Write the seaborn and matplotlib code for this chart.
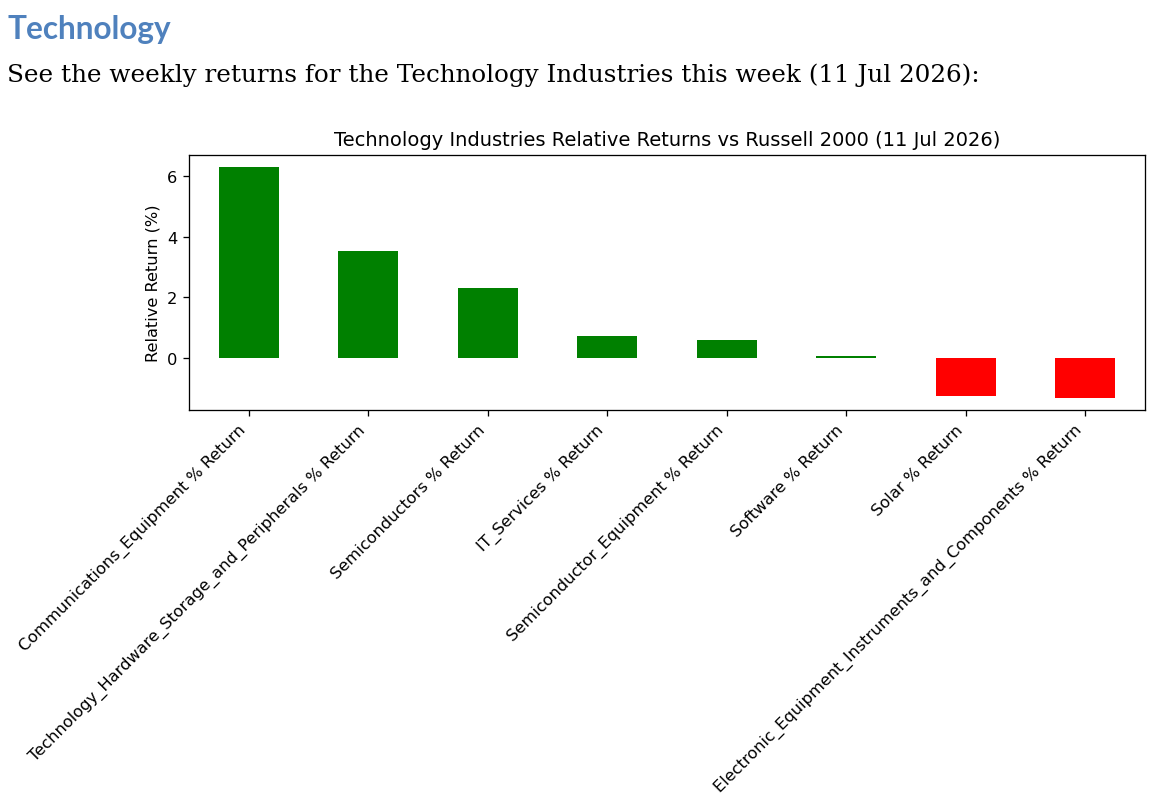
import matplotlib
matplotlib.use("Agg")
import matplotlib.pyplot as plt
import seaborn as sns

categories = [
    "Communications_Equipment % Return",
    "Technology_Hardware_Storage_and_Peripherals % Return",
    "Semiconductors % Return",
    "IT_Services % Return",
    "Semiconductor_Equipment % Return",
    "Software % Return",
    "Solar % Return",
    "Electronic_Equipment_Instruments_and_Components % Return",
]
values = [6.31, 3.53, 2.29, 0.73, 0.59, 0.07, -1.27, -1.34]

heading = "Technology"
intro = "See the weekly returns for the Technology Industries this week (11 Jul 2026):"
chart_title = "Technology Industries Relative Returns vs Russell 2000 (11 Jul 2026)"
y_label = "Relative Return (%)"

colors = ["green" if v >= 0 else "red" for v in values]

s = 1.17
plt.rcParams.update({
    "font.size": 10 * s,
    "axes.linewidth": 0.8 * s,
    "xtick.major.size": 3.5 * s,
    "ytick.major.size": 3.5 * s,
    "xtick.major.width": 0.8 * s,
    "ytick.major.width": 0.8 * s,
    "xtick.major.pad": 3.5 * s,
    "ytick.major.pad": 3.5 * s,
    "axes.labelpad": 4 * s,
    "axes.titlepad": 6 * s,
})

fig = plt.figure(figsize=(11.66, 8.12), dpi=100)
ax = fig.add_axes([189 / 1166, 1 - 411 / 812, (1145 - 189) / 1166, (411 - 156) / 812])

sns.barplot(x=categories, y=values, hue=categories, palette=colors,
            width=0.5, saturation=1, legend=False, ax=ax)
ax.set_xlim(-0.5, len(categories) - 0.5)
ax.set_title(chart_title, fontsize=12 * s)
ax.set_ylabel(y_label, fontsize=10 * s)
ax.set_xlabel("")
ax.set_yticks([0, 2, 4, 6])
ax.tick_params(labelsize=10 * s)
plt.setp(ax.get_xticklabels(), rotation=45, ha="right")

fig.text(7 / 1166, 1 - 39 / 812, heading, color="#4F81BD", fontsize=22.7,
         fontweight="bold", family="Lato", va="baseline", ha="left")
fig.text(7 / 1166, 1 - 82 / 812, intro, color="black", fontsize=17.7,
         family="DejaVu Serif", va="baseline", ha="left")

fig.savefig("out.png", dpi=100)
